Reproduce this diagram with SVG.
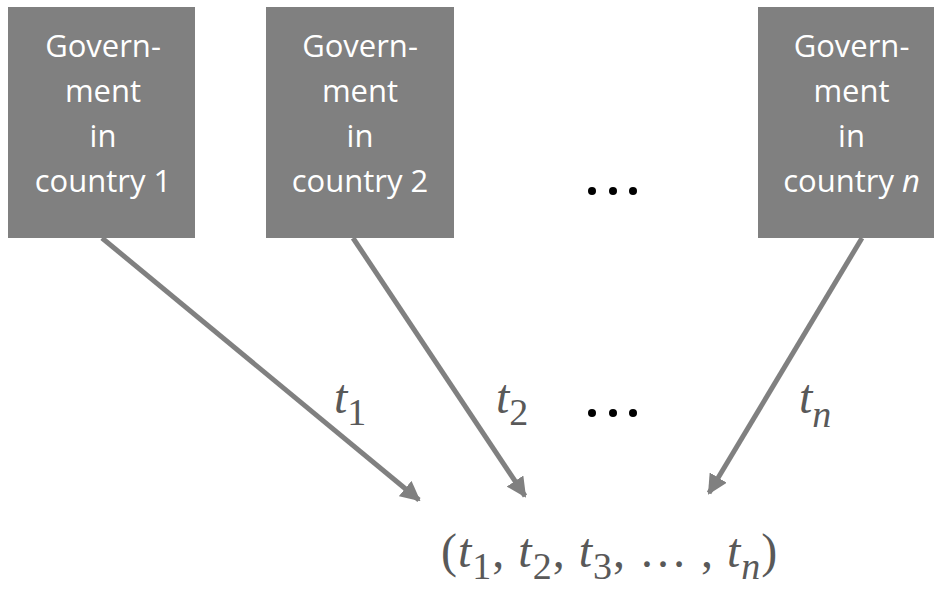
<svg xmlns="http://www.w3.org/2000/svg" width="934" height="589" viewBox="0 0 934 589">
<defs>
<style>
.box{fill:#808080}
.bt{font-family:"Open Sans","Liberation Sans",sans-serif;font-size:31px;fill:#ffffff;text-anchor:middle}
.m{font-family:"Liberation Serif","DejaVu Serif",serif;font-style:italic;font-size:48px;fill:#595959}
.sub{font-style:normal;font-size:38px}
.subi{font-size:38px}
.c{stroke:#808080;stroke-width:5;fill:none}
.dot{fill:#000000}
</style>
<marker id="ah" viewBox="0 0 10 10" refX="9" refY="5" markerWidth="4" markerHeight="4" orient="auto" markerUnits="strokeWidth">
<path d="M0,0 L10,5 L0,10 z" fill="#808080"/>
</marker>
</defs>
<rect width="934" height="589" fill="#ffffff"/>
<g id="gov1">
<rect class="box" x="8" y="7" width="187" height="231"/>
<text class="bt" x="103" y="57">Govern-</text>
<text class="bt" x="103" y="102">ment</text>
<text class="bt" x="103" y="147">in</text>
<text class="bt" x="103" y="192">country 1</text>
</g>
<g id="gov2">
<rect class="box" x="266" y="7" width="188" height="231"/>
<text class="bt" x="360" y="57">Govern-</text>
<text class="bt" x="360" y="102">ment</text>
<text class="bt" x="360" y="147">in</text>
<text class="bt" x="360" y="192">country 2</text>
</g>
<g id="govn">
<rect class="box" x="758" y="7" width="187" height="231"/>
<text class="bt" x="851.5" y="57">Govern-</text>
<text class="bt" x="851.5" y="102">ment</text>
<text class="bt" x="851.5" y="147">in</text>
<text class="bt" x="851.5" y="192">country <tspan font-style="italic">n</tspan></text>
</g>
<g id="ellipsis-top">
<circle class="dot" cx="592" cy="191" r="4"/>
<circle class="dot" cx="613" cy="191" r="4"/>
<circle class="dot" cx="633" cy="191" r="4"/>
</g>
<g id="connectors">
<line class="c" x1="102" y1="238" x2="419" y2="500" marker-end="url(#ah)"/>
<line class="c" x1="353" y1="238" x2="525" y2="496" marker-end="url(#ah)"/>
<line class="c" x1="862" y1="238" x2="709" y2="493" marker-end="url(#ah)"/>
</g>
<g id="labels">
<text class="m" x="334" y="413">t<tspan class="sub" dy="12">1</tspan></text>
<text class="m" x="496" y="413">t<tspan class="sub" dy="12">2</tspan></text>
<text class="m" x="799" y="413">t<tspan class="subi" dy="14">n</tspan></text>
<g id="ellipsis-mid">
<circle class="dot" cx="592" cy="413" r="4"/>
<circle class="dot" cx="613" cy="413" r="4"/>
<circle class="dot" cx="633" cy="413" r="4"/>
</g>
</g>
<g id="tuple">
<text class="m" x="441" y="567" letter-spacing="1"><tspan font-style="normal">(</tspan>t<tspan class="sub" dy="12">1</tspan><tspan dy="-12" font-style="normal">, </tspan>t<tspan class="sub" dy="12">2</tspan><tspan dy="-12" font-style="normal">, </tspan>t<tspan class="sub" dy="12">3</tspan><tspan dy="-12" font-style="normal">, … , </tspan>t<tspan class="subi" dy="12">n</tspan><tspan dy="-12" font-style="normal">)</tspan></text>
</g>
</svg>
